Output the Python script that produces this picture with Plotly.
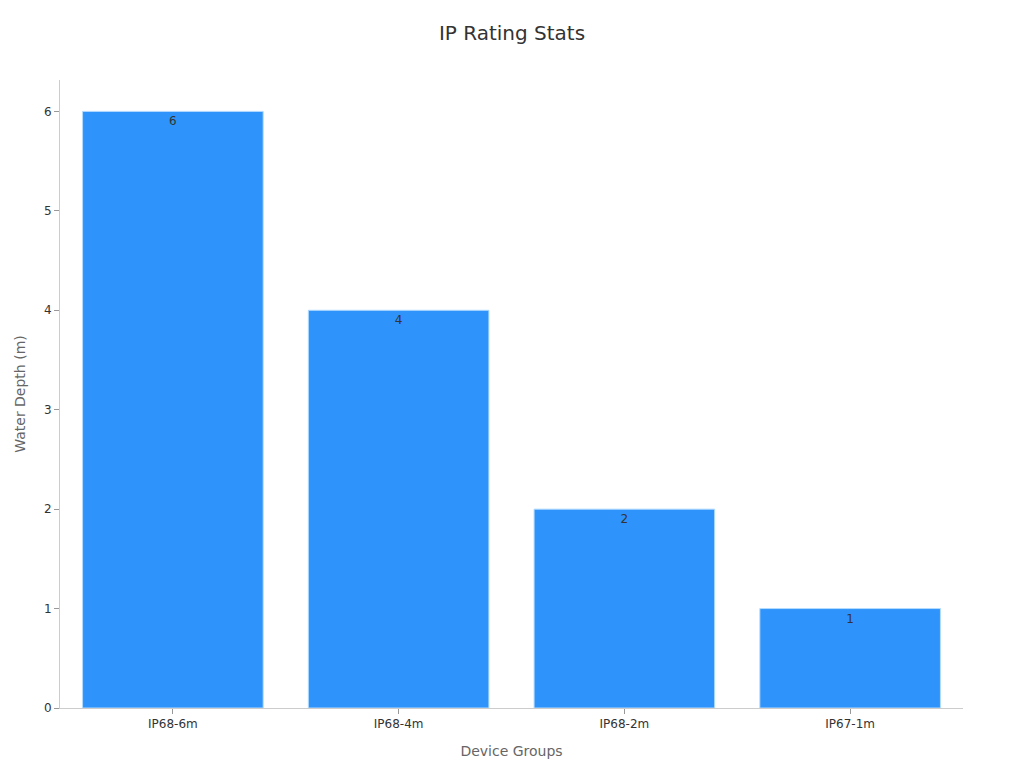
import plotly.graph_objects as go

# data
device_groups = ['IP68-6m', 'IP68-4m', 'IP68-2m', 'IP67-1m']
water_depth = [6, 4, 2, 1]

fig = go.Figure()

fig.add_trace(go.Bar(
    x=device_groups, y=water_depth,
    text=water_depth,
    textposition='inside',
    insidetextanchor='end',
    textfont=dict(color='#333333', size=12),
    marker=dict(color='#2E93FA', line=dict(color='#B3DBFF', width=1)),
    width=0.8,
))

# Layout and axis formatting (page has an 8px body margin)
fig.update_layout(
    title=dict(text='IP Rating Stats', x=0.5, xanchor='center', y=0.976,
               yanchor='top', font=dict(size=20, color='#333333')),
    font=dict(family='DejaVu Sans', color='#333333'),
    xaxis=dict(
        title=dict(text='Device Groups', font=dict(size=14, color='#666666')),
        showline=True, linecolor='#CCCCCC', linewidth=1,
        ticks='outside', tickcolor='#999999', ticklen=5,
        tickfont=dict(size=12, color='#333333'),
        showgrid=False, automargin=False,
    ),
    yaxis=dict(
        title=dict(text='Water Depth (m)', font=dict(size=14, color='#666666')),
        showline=True, linecolor='#CCCCCC', linewidth=1,
        ticks='outside', tickcolor='#999999', ticklen=5,
        tickfont=dict(size=12, color='#333333'),
        showgrid=False, zeroline=False, automargin=False,
        dtick=1,
    ),
    plot_bgcolor='white',
    paper_bgcolor='white',
    width=1008, height=752,
    margin=dict(l=52, r=53, t=72, b=52),
    showlegend=False,
)

fig.write_html("out.html")
